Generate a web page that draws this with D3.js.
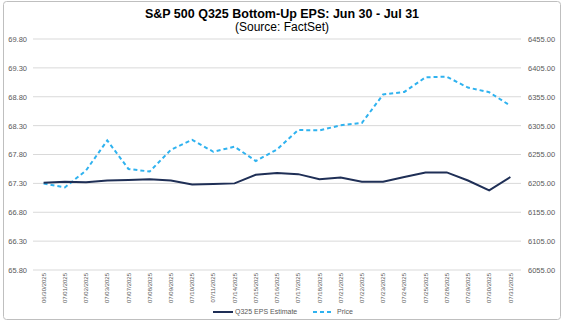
<!DOCTYPE html>
<html>
<head>
<meta charset="utf-8">
<script src="https://cdn.jsdelivr.net/npm/d3@7"></script>
<style>
  body { margin: 0; background: #fff; }
  svg { font-family: "Liberation Sans", Arial, sans-serif; }
</style>
</head>
<body>
<div id="chart"></div>
<script>
const dates = ["06/30/2025", "07/01/2025", "07/02/2025", "07/03/2025", "07/07/2025", "07/08/2025",
  "07/09/2025", "07/10/2025", "07/11/2025", "07/14/2025", "07/15/2025", "07/16/2025",
  "07/17/2025", "07/18/2025", "07/21/2025", "07/22/2025", "07/23/2025", "07/24/2025",
  "07/25/2025", "07/28/2025", "07/29/2025", "07/30/2025", "07/31/2025"];

const epsEstimate = [67.31, 67.33, 67.32, 67.35, 67.36, 67.37, 67.35, 67.28, 67.29, 67.30,
  67.45, 67.48, 67.46, 67.37, 67.40, 67.33, 67.33, 67.41, 67.49, 67.49, 67.35, 67.18, 67.41];

const price = [6204.95, 6198.01, 6227.42, 6279.35, 6229.98, 6225.52, 6263.26, 6280.46,
  6259.75, 6268.56, 6243.76, 6263.70, 6297.36, 6296.79, 6305.60, 6309.62, 6358.91,
  6363.35, 6388.64, 6389.77, 6370.86, 6362.90, 6339.39];

const leftTicks = [65.8, 66.3, 66.8, 67.3, 67.8, 68.3, 68.8, 69.3, 69.8];
const rightTicks = [6055, 6105, 6155, 6205, 6255, 6305, 6355, 6405, 6455];

const width = 565, height = 325;
const plot = { left: 33, right: 521, top: 39, bottom: 270 };

const colors = { eps: "#1f2f56", price: "#2fb2ef", grid: "#d9d9d9", text: "#595959", border: "#bfbfbf" };

const svg = d3.select("#chart").append("svg")
  .attr("width", width).attr("height", height);

svg.append("rect")
  .attr("x", 3.5).attr("y", 1.5).attr("width", 557).attr("height", 318)
  .attr("rx", 3).attr("fill", "#fff").attr("stroke", colors.border);

const x = d3.scaleBand().domain(dates).range([plot.left, plot.right]);
const yLeft = d3.scaleLinear().domain([65.8, 69.8]).range([plot.bottom, plot.top]);
const yRight = d3.scaleLinear().domain([6055, 6455]).range([plot.bottom, plot.top]);

// gridlines
svg.append("g").selectAll("line").data(leftTicks).join("line")
  .attr("x1", plot.left).attr("x2", plot.right)
  .attr("y1", d => yLeft(d)).attr("y2", d => yLeft(d))
  .attr("stroke", colors.grid).attr("stroke-width", 1);

// left axis
const leftAxis = svg.append("g")
  .attr("transform", `translate(${plot.left - 6},0)`)
  .call(d3.axisLeft(yLeft).tickValues(leftTicks).tickFormat(d3.format(".2f")).tickSize(0).tickPadding(0));
leftAxis.select(".domain").remove();

// right axis
const rightAxis = svg.append("g")
  .attr("transform", `translate(${plot.right + 7},0)`)
  .call(d3.axisRight(yRight).tickValues(rightTicks).tickFormat(d3.format(".2f")).tickSize(0).tickPadding(0));
rightAxis.select(".domain").remove();

svg.selectAll(".tick text")
  .attr("fill", colors.text).attr("font-size", 7.5)
  .attr("font-family", "Liberation Sans, Arial, sans-serif");

// x labels
const xAxis = svg.append("g")
  .attr("transform", `translate(0,${plot.bottom + 3})`)
  .call(d3.axisBottom(x).tickSize(0).tickPadding(0));
xAxis.select(".domain").remove();
xAxis.selectAll("text")
  .attr("transform", "rotate(-90)")
  .attr("text-anchor", "end")
  .attr("x", 0).attr("y", 0).attr("dy", "0.35em")
  .attr("fill", colors.text).attr("font-size", 6)
  .attr("font-family", "Liberation Sans, Arial, sans-serif");

const cx = d => x(d) + x.bandwidth() / 2;

svg.append("path")
  .datum(price.map((v, i) => [cx(dates[i]), yRight(v)]))
  .attr("fill", "none").attr("stroke", colors.price).attr("stroke-width", 2)
  .attr("stroke-dasharray", "4,3")
  .attr("d", d3.line());

svg.append("path")
  .datum(epsEstimate.map((v, i) => [cx(dates[i]), yLeft(v)]))
  .attr("fill", "none").attr("stroke", colors.eps).attr("stroke-width", 2)
  .attr("d", d3.line());

// title
svg.append("text").attr("x", 282).attr("y", 18).attr("text-anchor", "middle")
  .attr("font-size", 12.5).attr("font-weight", "bold").attr("fill", "#000")
  .text("S&P 500 Q325 Bottom-Up EPS: Jun 30 - Jul 31");
svg.append("text").attr("x", 282).attr("y", 31).attr("text-anchor", "middle")
  .attr("font-size", 12).attr("fill", "#000")
  .text("(Source: FactSet)");

// legend
const legend = svg.append("g").attr("transform", "translate(0,312)");
legend.append("line").attr("x1", 213).attr("x2", 233).attr("y1", 0).attr("y2", 0)
  .attr("stroke", colors.eps).attr("stroke-width", 2);
legend.append("text").attr("x", 235).attr("y", 0).attr("dy", "0.35em")
  .attr("font-size", 7).attr("fill", colors.text).text("Q325 EPS Estimate");
legend.append("line").attr("x1", 313).attr("x2", 334).attr("y1", 0).attr("y2", 0)
  .attr("stroke", colors.price).attr("stroke-width", 2).attr("stroke-dasharray", "4,3");
legend.append("text").attr("x", 337).attr("y", 0).attr("dy", "0.35em")
  .attr("font-size", 7).attr("fill", colors.text).text("Price");
</script>
</body>
</html>
